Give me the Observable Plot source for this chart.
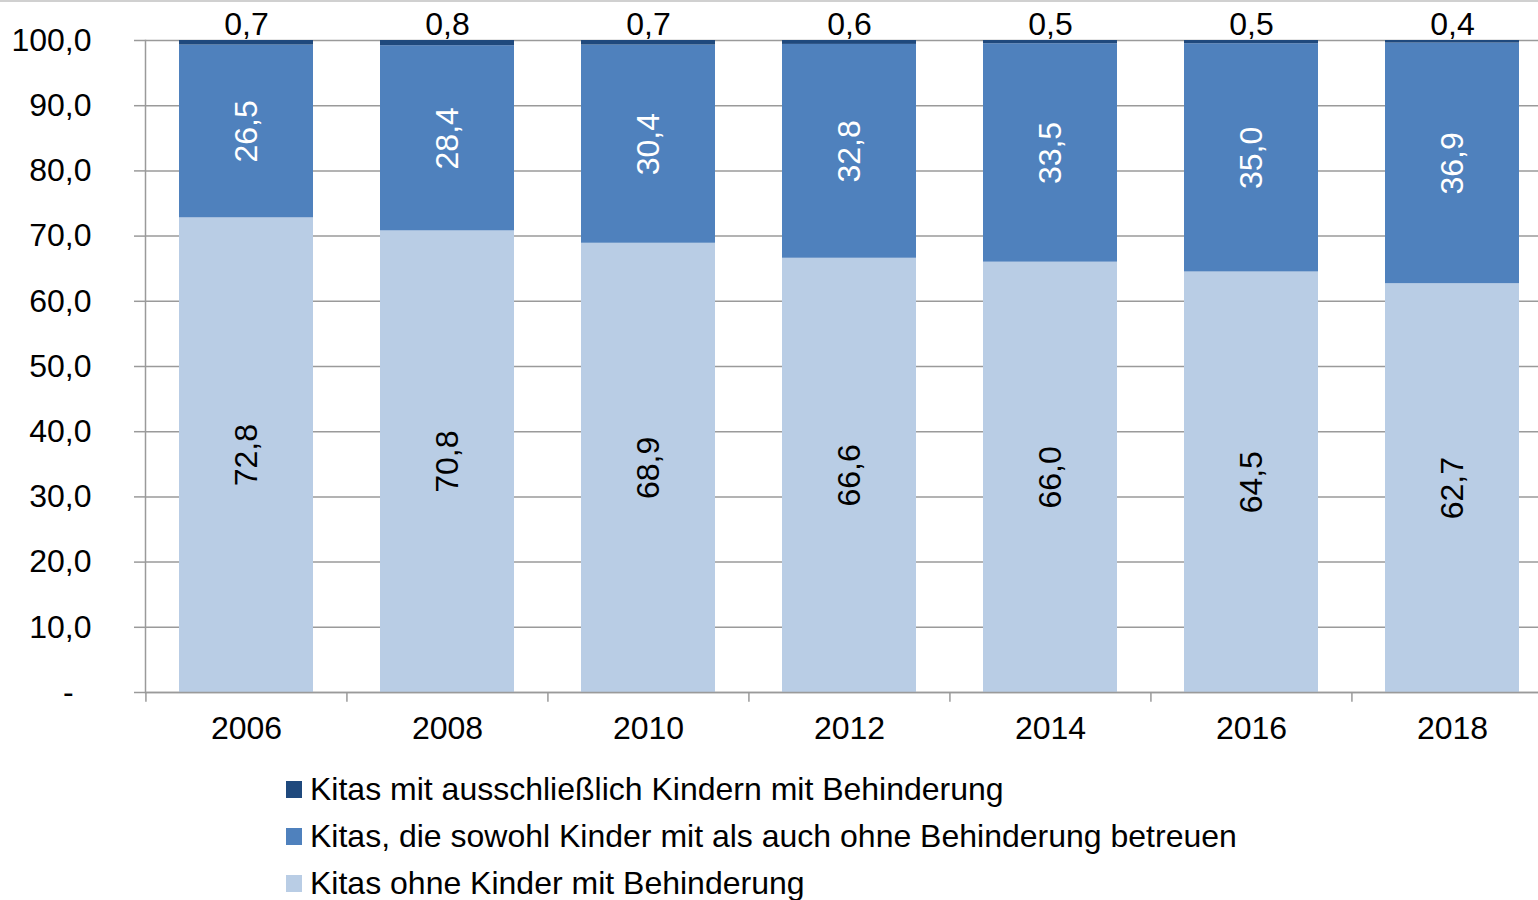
<!DOCTYPE html>
<html>
<head>
<meta charset="utf-8">
<script src="https://cdn.jsdelivr.net/npm/d3@7"></script>
<script src="https://cdn.jsdelivr.net/npm/@observablehq/plot@0.6"></script>
<style>
  html, body { margin: 0; padding: 0; background: #fff; overflow: hidden; }
  body { width: 1538px; height: 900px; position: relative; font-family: "Liberation Sans", Arial, sans-serif; }
  #topline { position: absolute; left: 0; top: 0; width: 1538px; height: 2px; background: #d0d0d0; }
  #chart { position: absolute; left: 0; top: 0; }
  #legend { position: absolute; left: 286px; top: 766px; font-size: 32px; color: #000; }
  .row { display: flex; align-items: center; height: 47px; white-space: nowrap; }
  .key { width: 16px; height: 17px; margin-right: 8px; flex: none; }
</style>
</head>
<body>
<div id="chart"></div>
<div id="topline"></div>
<div id="legend"></div>
<script>
const years = ["2006", "2008", "2010", "2012", "2014", "2016", "2018"];
const seriesNames = [
  "Kitas ohne Kinder mit Behinderung",
  "Kitas, die sowohl Kinder mit als auch ohne Behinderung betreuen",
  "Kitas mit ausschließlich Kindern mit Behinderung"
];
const seriesKeys = ["light", "mid", "dark"];
const seriesColors = ["#b9cde5", "#4f81bd", "#1f497d"];
const ohne = [72.8, 70.8, 68.9, 66.6, 66.0, 64.5, 62.7];
const sowohl = [26.5, 28.4, 30.4, 32.8, 33.5, 35.0, 36.9];
const ausschl = [0.7, 0.8, 0.7, 0.6, 0.5, 0.5, 0.4];
const yTicks = [0, 10, 20, 30, 40, 50, 60, 70, 80, 90, 100];

const seriesValues = [ohne, sowohl, ausschl];
const rows = [];
years.forEach((year, i) => {
  seriesKeys.forEach((key, s) => {
    rows.push({year, cat: key, value: seriesValues[s][i], color: seriesColors[s]});
  });
});

const fmt = v => v.toFixed(1).replace(".", ",");
const yFmt = v => v === 0 ? "-\u2007" : fmt(v);
const gray = "#9a9a9a";
const step = (1552.5 - 144.5) / years.length;
const fs = 32;

const chart = Plot.plot({
  width: 1538,
  height: 760,
  marginLeft: 145,
  marginRight: 0,
  marginTop: 40,
  marginBottom: 68,
  style: {fontFamily: "'Liberation Sans', Arial, sans-serif", fontSize: fs + "px", color: "#000", background: "#fff"},
  x: {domain: years, range: [144.5, 1552.5], paddingInner: 1/3, paddingOuter: 1/6, label: null},
  y: {domain: [0, 100], label: null},
  color: {type: "identity"},
  marks: [
    Plot.ruleY(yTicks, {stroke: gray, strokeWidth: 1.5}),
    Plot.barY(rows, {x: "year", y: "value", z: "cat", fill: "color", order: null}),
    Plot.frame({anchor: "left", stroke: gray, strokeWidth: 1.5}),
    Plot.ruleY([0], {stroke: gray, strokeWidth: 1.5}),
    Plot.ruleX(years, {x: d => d, dx: -step / 2, y1: 0, y2: -1.5, stroke: gray, strokeWidth: 1.5}),
    Plot.axisY(yTicks, {tickSize: 11, tickPadding: 43, tickFormat: yFmt, stroke: gray, strokeWidth: 1.5, fontSize: fs, fill: "#000"}),
    Plot.axisX({tickSize: 0, tickPadding: 24, fontSize: fs, fill: "#000"}),
    Plot.text(rows, Plot.stackY({
      x: "year", y: "value", z: "cat", order: null,
      text: d => d.cat === "dark" ? null : fmt(d.value),
      rotate: -90, fontSize: fs,
      fill: d => d.cat === "mid" ? "#ffffff" : "#000000"
    })),
    Plot.text(rows, Plot.stackY2({
      x: "year", y: "value", z: "cat", order: null,
      text: d => d.cat === "dark" ? fmt(d.value) : null,
      dy: -16, fontSize: fs, fill: "#000000"
    }))
  ]
});
document.getElementById("chart").appendChild(chart);

const legend = document.getElementById("legend");
[2, 1, 0].forEach(s => {
  const row = document.createElement("div");
  row.className = "row";
  const key = document.createElement("span");
  key.className = "key";
  key.style.background = seriesColors[s];
  const label = document.createElement("span");
  label.textContent = seriesNames[s];
  row.appendChild(key);
  row.appendChild(label);
  legend.appendChild(row);
});
</script>
</body>
</html>
